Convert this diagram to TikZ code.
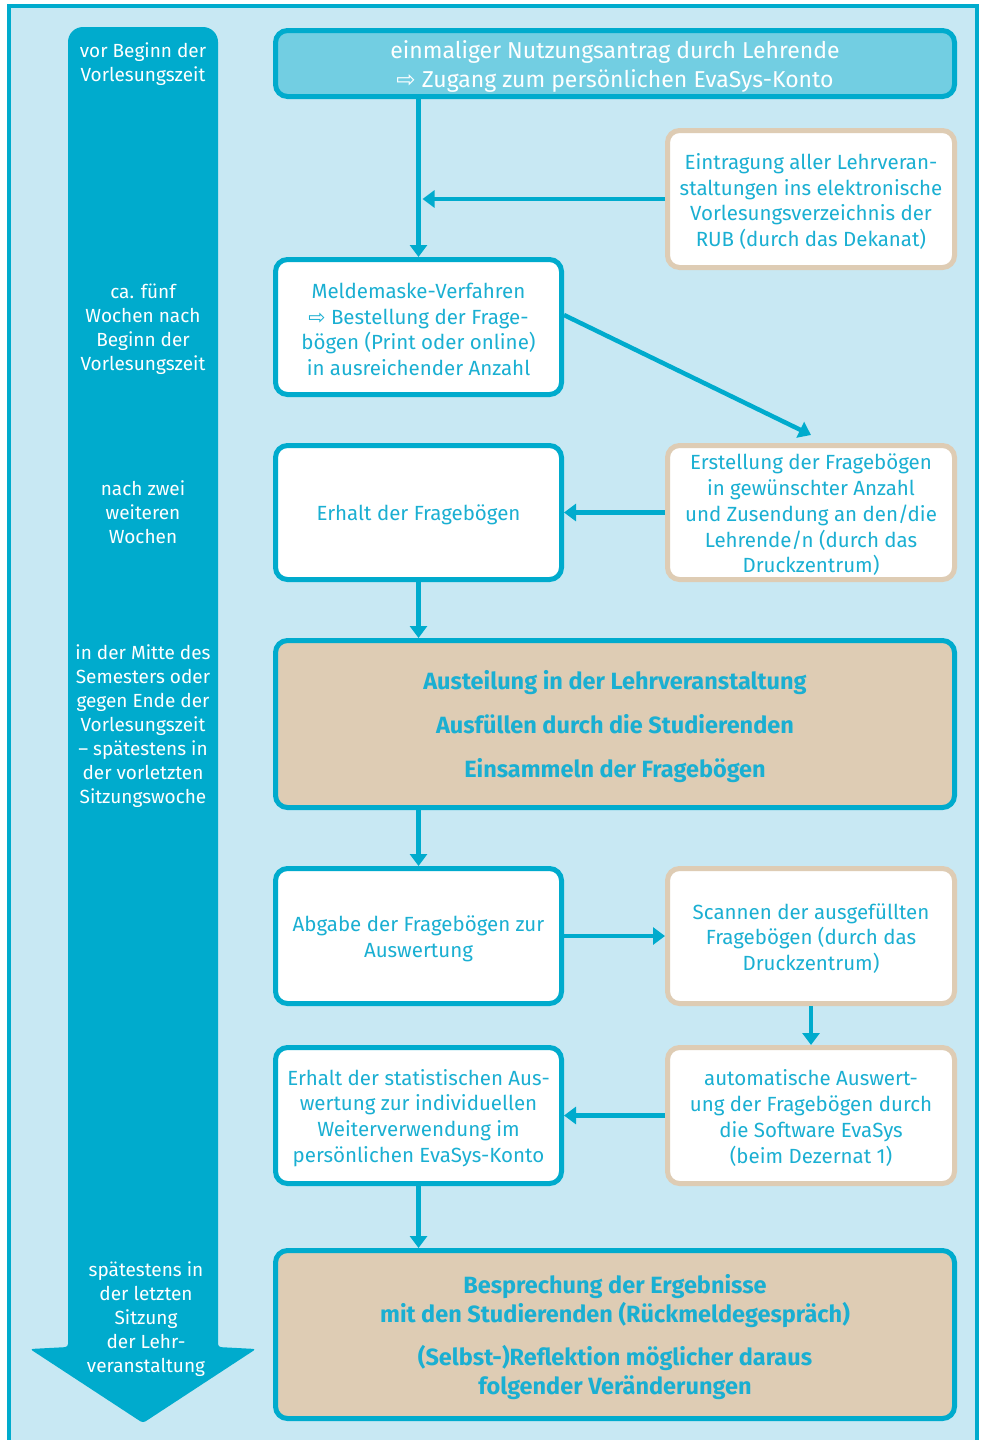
\documentclass[tikz,border=0pt]{standalone}
\usepackage{fontspec}
\setmainfont{Fira Sans}
\newfontfamily\symf{DejaVu Sans}
\usetikzlibrary{arrows.meta}
\definecolor{teal1}{HTML}{00ABCD}
\definecolor{bgblue}{HTML}{C8E8F3}
\definecolor{topfill}{HTML}{72CEE2}
\definecolor{beige}{HTML}{DECCB4}
\definecolor{txt}{HTML}{1AAFD2}
\begin{document}
\begin{tikzpicture}[x=1pt,y=-1pt,
  box/.style={draw=teal1, line width=5pt, rounded corners=12pt, fill=white, inner sep=0pt},
  rbox/.style={box, draw=beige},
  bigbox/.style={box, fill=beige},
  btext/.style={text=txt, align=center, font=\fontsize{20.5}{25.8}\selectfont, inner sep=0pt, yshift=-2.5pt},
  bigtext/.style={btext, font=\fontsize{23.5}{29}\selectfont\bfseries},
  smallw/.style={minimum width=286pt},
  wideW/.style={minimum width=679pt},
  arr/.style={draw=teal1, line width=4.5pt, -{Triangle[width=17pt,length=12pt]}},
  tl/.style={text=white, align=center, font=\fontsize{19}{24}\selectfont, inner sep=0pt, yshift=-1.5pt}
]
\useasboundingbox (0,0) rectangle (980,1440);
\begin{scope}
\clip (0,0) rectangle (980,1440);
\draw[draw=teal1, fill=bgblue, line width=4.5pt] (9,6) rectangle (977,1470);
\end{scope}

% timeline arrow
\fill[teal1] (68,700) [rounded corners=15pt] -- (68,27) -- (218,27) -- (218,700)
  [rounded corners=3pt] -- (218,1347) -- (256,1349) -- (143,1423) -- (30,1349) -- (68,1347) -- cycle;

\node[tl] (t1) at (143,63) {vor Beginn der\\Vorlesungszeit};
\node[tl] (t2) at (143,328) {ca. fünf\\Wochen nach\\Beginn der\\Vorlesungszeit};
\node[tl] (t3) at (143,511) {nach zwei\\weiteren\\Wochen};
\node[tl] (t4) at (143,725) {in der Mitte des\\Semesters oder\\gegen Ende der\\Vorlesungszeit\\– spätestens in\\der vorletzten\\Sitzungswoche};
\node[tl] (t5) at (146,1318) {spätestens in\\der letzten\\Sitzung\\der Lehr-\\veranstaltung};

% boxes
\node[box, wideW, minimum height=66pt, fill=topfill] (top) at (615,63.5) {};
\node[btext, text=white, font=\fontsize{23}{29}\selectfont] (topT) at (top)
  {einmaliger Nutzungsantrag durch Lehrende\\{\symf ⇨} Zugang zum persönlichen EvaSys-Konto};
\node[rbox, minimum width=287pt, minimum height=137pt] (eintr) at (811,199) {};
\node[btext] (eintrT) at (eintr)
  {Eintragung aller Lehrveran-\\staltungen ins elektronische\\Vorlesungsverzeichnis der\\RUB (durch das Dekanat)};
\node[box, smallw, minimum height=135pt] (melde) at (418.5,327) {};
\node[btext] (meldeT) at (melde)
  {Meldemaske-Verfahren\\{\symf ⇨} Bestellung der Frage-\\bögen (Print oder online)\\in ausreichender Anzahl};
\node[rbox, minimum width=287pt, minimum height=134pt] (erst) at (811,512.5) {};
\node[btext] (erstT) at (erst)
  {Erstellung der Fragebögen\\in gewünschter Anzahl\\und Zusendung an den/die\\Lehrende/n (durch das\\Druckzentrum)};
\node[box, smallw, minimum height=134pt] (erhalt) at (418.5,512.5) {};
\node[btext] (erhaltT) at (erhalt) {Erhalt der Fragebögen};
\node[bigbox, wideW, minimum height=167pt] (aus) at (615,724) {};
\node[bigtext] (ausT) at (aus)
  {Austeilung in der Lehrveranstaltung\\[15pt]Ausfüllen durch die Studierenden\\[15pt]Einsammeln der Fragebögen};
\node[box, smallw, minimum height=135pt] (abg) at (418.5,936) {};
\node[btext] (abgT) at (abg) {Abgabe der Fragebögen zur\\Auswertung};
\node[rbox, minimum width=287pt, minimum height=135pt] (scan) at (811,936) {};
\node[btext] (scanT) at (scan)
  {Scannen der ausgefüllten\\Fragebögen (durch das\\Druckzentrum)};
\node[box, smallw, minimum height=136pt] (stat) at (418.5,1115.5) {};
\node[btext] (statT) at (stat)
  {Erhalt der statistischen Aus-\\wertung zur individuellen\\Weiterverwendung im\\persönlichen EvaSys-Konto};
\node[rbox, minimum width=287pt, minimum height=136pt] (auto) at (811,1115.5) {};
\node[btext] (autoT) at (auto)
  {automatische Auswert-\\ung der Fragebögen durch\\die Software EvaSys\\(beim Dezernat 1)};
\node[bigbox, wideW, minimum height=168pt] (bes) at (615,1334.5) {};
\node[bigtext] (besT) at (bes)
  {Besprechung der Ergebnisse\\mit den Studierenden (Rückmeldegespräch)\\[14pt](Selbst-)Reflektion möglicher daraus\\folgender Veränderungen};

% connectors
\coordinate (j) at (melde.north |- eintr.west);
\draw[arr] (melde.north |- top.south) -- (melde.north);
\draw[arr] (eintr.west) -- ([xshift=4pt]j);
\draw[arr] ([yshift=12pt]melde.east) -- ([yshift=8pt]erst.north);
\draw[arr] (erst.west) -- (erhalt.east);
\draw[arr] (erhalt.south) -- (erhalt.south |- aus.north);
\draw[arr] (abg.north |- aus.south) -- (abg.north);
\draw[arr] (abg.east) -- (scan.west);
\draw[arr] (scan.south) -- (auto.north);
\draw[arr] (auto.west) -- (stat.east);
\draw[arr] (stat.south) -- (stat.south |- bes.north);
\end{tikzpicture}
\end{document}
